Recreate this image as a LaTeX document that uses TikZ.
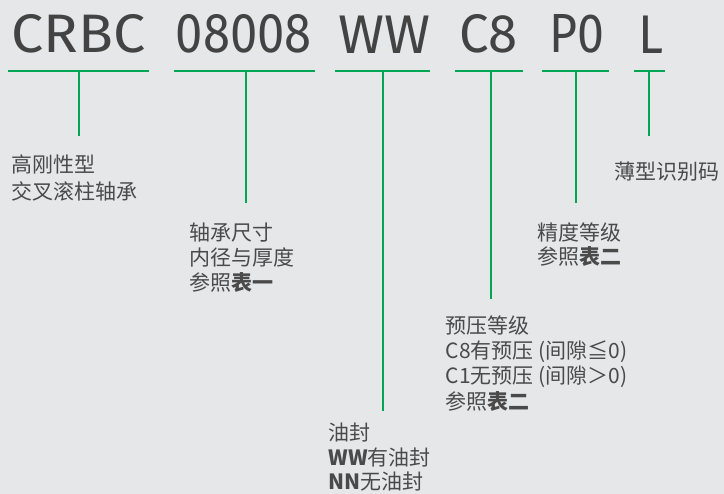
\documentclass[tikz,border=0pt]{standalone}
\usepackage{fontspec}
\setmainfont{Noto Sans CJK SC}
\newfontfamily\titlefont{Fira Sans}
\definecolor{bg}{HTML}{E6E7E8}
\definecolor{ink}{HTML}{434344}
\definecolor{lblink}{HTML}{4A4A4B}
\definecolor{brand}{HTML}{00A651}
\begin{document}
\begin{tikzpicture}[x=1pt,y=-1pt,
  titletok/.style={anchor=south west, inner sep=0pt, text=ink, font=\titlefont},
  lbl/.style={anchor=base west, inner sep=0pt, text=lblink, font=\fontsize{21}{24}\selectfont},
  gline/.style={draw=brand, line width=2.6pt}]
\fill[bg] (0,0) rectangle (724,494);
\useasboundingbox (0,0) rectangle (724,494);
% title tokens
\node[titletok] (t1) at (11.5,53.3) {\resizebox{134pt}{38pt}{CRBC}};
\node[titletok] (t2) at (175.5,53.3) {\resizebox{136pt}{38pt}{08008}};
\node[titletok] (t3) at (338.5,53.3) {\resizebox{92pt}{37.5pt}{WW}};
\node[titletok] (t4) at (459.5,53.3) {\resizebox{57.5pt}{38pt}{C8}};
\node[titletok] (t5) at (549.5,53.3) {\resizebox{55pt}{38pt}{P0}};
\node[titletok] (t6) at (638,53.3) {\resizebox{25pt}{37.5pt}{L}};
% underline and drop coordinates
\coordinate (u1a) at (8,71);   \coordinate (u1b) at (149,71);
\coordinate (u2a) at (174,71); \coordinate (u2b) at (315,71);
\coordinate (u3a) at (335,71); \coordinate (u3b) at (430,71);
\coordinate (u4a) at (455,71); \coordinate (u4b) at (523,71);
\coordinate (u5a) at (542,71); \coordinate (u5b) at (609,71);
\coordinate (u6a) at (634,71); \coordinate (u6b) at (665,71);
\coordinate (d1) at (79,71);  \coordinate (e1) at (79,136);
\coordinate (d2) at (246,71); \coordinate (e2) at (246,203);
\coordinate (d3) at (383,71); \coordinate (e3) at (383,411);
\coordinate (d4) at (491,71); \coordinate (e4) at (491,299);
\coordinate (d5) at (576,71); \coordinate (e5) at (576,203);
\coordinate (d6) at (649,71); \coordinate (e6) at (649,136);
\foreach \i in {1,...,6}{
  \draw[gline] (u\i a) -- (u\i b);
  \draw[gline] (d\i) -- (e\i);
}
% labels
\node[lbl] (a1) at (11.5,173) {高刚性型};
\node[lbl] (a2) at (11.5,199.5) {交叉滚柱轴承};
\node[lbl] (b1) at (189.5,241) {轴承尺寸};
\node[lbl] (b2) at (189.5,266) {内径与厚度};
\node[lbl] (b3) at (189.5,291) {参照\textbf{表一}};
\node[lbl] (c1) at (537.5,241) {精度等级};
\node[lbl] (c2) at (537.5,265) {参照\textbf{表二}};
\node[lbl] (f1) at (614.5,180) {薄型识别码};
\node[lbl] (g1) at (445.5,334) {预压等级};
\node[lbl] (g2) at (445.5,358.5) {C8有预压 (间隙≦0)};
\node[lbl] (g3) at (445.5,384) {C1无预压 (间隙＞0)};
\node[lbl] (g4) at (445.5,409.5) {参照\textbf{表二}};
\node[lbl] (h1) at (328.5,440.5) {油封};
\node[lbl] (h2) at (328.5,465.5) {\textbf{WW}有油封};
\node[lbl] (h3) at (328.5,490) {\textbf{NN}无油封};
\end{tikzpicture}
\end{document}
